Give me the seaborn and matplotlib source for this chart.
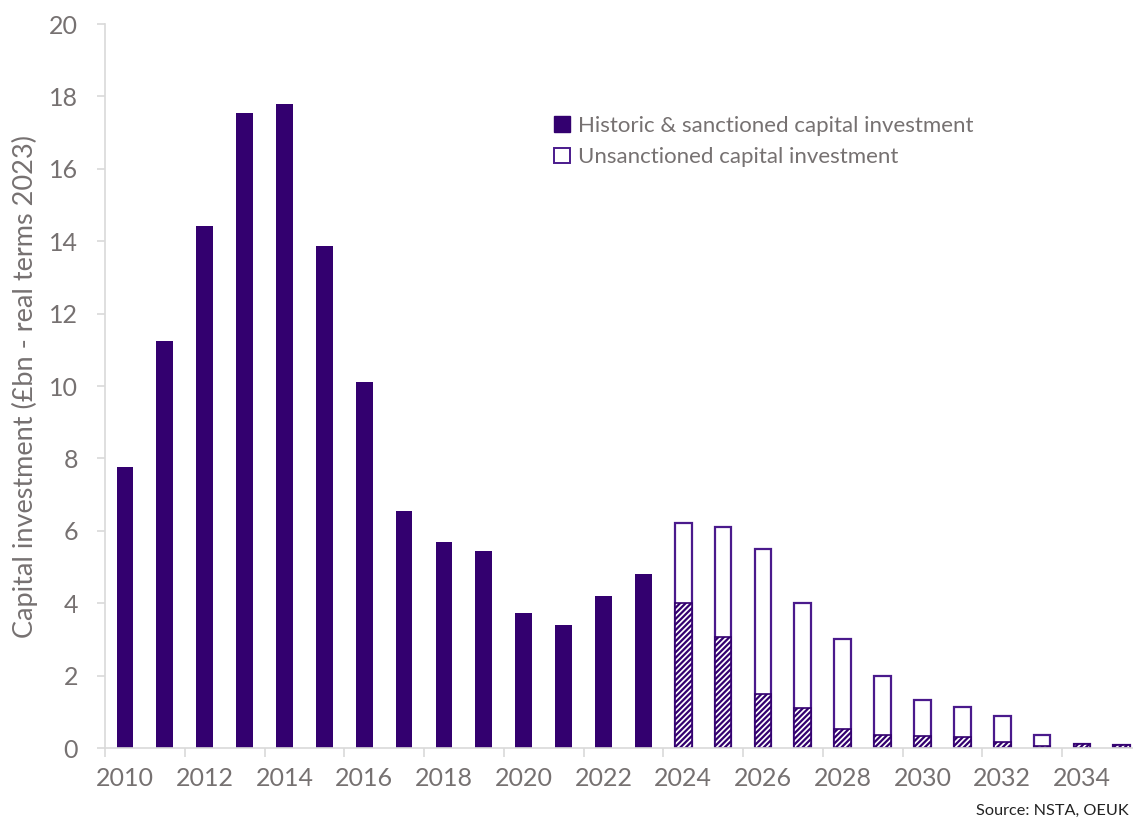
import matplotlib
matplotlib.use("Agg")
import matplotlib.pyplot as plt
from matplotlib.patches import Patch
from matplotlib.ticker import MultipleLocator, FixedLocator
import seaborn as sns
import pandas as pd

years = [str(y) for y in range(2010, 2036)]

historic_years = [str(y) for y in range(2010, 2024)]
historic = [7.75, 11.24, 14.42, 17.54, 17.79, 13.86, 10.11, 6.55, 5.70, 5.44, 3.73, 3.40, 4.20, 4.81]

future_years = [str(y) for y in range(2024, 2036)]
sanctioned = [4.00, 3.07, 1.49, 1.10, 0.52, 0.36, 0.34, 0.30, 0.17, 0.05, 0.10, 0.07]
unsanctioned = [2.22, 3.03, 4.01, 2.90, 2.49, 1.63, 0.99, 0.84, 0.72, 0.30, 0.00, 0.00]

legend_labels = ["Historic & sanctioned capital investment", "Unsanctioned capital investment"]
ylabel = "Capital investment (£bn - real terms 2023)"
source = "Source: NSTA, OEUK"

PURPLE = "#33006F"
EDGE = "#4A1A8C"
GREY_TXT = "#767171"
AXIS = "#D9D9D9"

sns.set_theme(style="white")
plt.rcParams["font.family"] = ["Lato", "DejaVu Sans"]
plt.rcParams["hatch.color"] = PURPLE
plt.rcParams["hatch.linewidth"] = 1.6

fig = plt.figure(figsize=(11.33, 8.23), dpi=100)
ax = fig.add_axes([105 / 1133, 75 / 823, (1133 - 105) / 1133, (748 - 24) / 823])

hist_df = pd.DataFrame({"year": historic_years, "value": historic})
fut_df = pd.DataFrame({
    "year": future_years,
    "sanctioned": sanctioned,
    "total": [s + u for s, u in zip(sanctioned, unsanctioned)],
})

bw = 0.42
sns.barplot(data=hist_df, x="year", y="value", order=years, color=PURPLE,
            saturation=1, width=bw, linewidth=0, ax=ax, errorbar=None)
sns.barplot(data=fut_df, x="year", y="total", order=years, color="white",
            saturation=1, width=bw, edgecolor=EDGE, linewidth=1.6, ax=ax, errorbar=None)
sns.barplot(data=fut_df, x="year", y="sanctioned", order=years, color="white",
            saturation=1, width=bw, edgecolor=PURPLE, linewidth=1.2, hatch="//////",
            ax=ax, errorbar=None)

ax.set_ylim(0, 20)
ax.set_xlim(-0.5, 25.28)
ax.yaxis.set_major_locator(MultipleLocator(2))

# labels on even years, tick marks on category boundaries
ax.set_xticks(range(0, len(years), 2))
ax.set_xticklabels(years[::2])
ax.xaxis.set_minor_locator(FixedLocator([i - 0.5 for i in range(0, len(years), 2)]))
ax.tick_params(axis="x", which="major", length=0, pad=14, labelsize=18, labelcolor=GREY_TXT)
ax.tick_params(axis="x", which="minor", length=6.5, width=1.2, color=AXIS, bottom=True)
ax.tick_params(axis="y", which="major", length=6, width=1.2, color=AXIS, left=True,
               labelsize=18, labelcolor=GREY_TXT, pad=13.5)

for side in ("top", "right"):
    ax.spines[side].set_visible(False)
for side in ("left", "bottom"):
    ax.spines[side].set_color(AXIS)
    ax.spines[side].set_linewidth(1.2)

ax.set_xlabel("")
ax.set_ylabel(ylabel, fontsize=19.5, color=GREY_TXT, labelpad=8)

handles = [Patch(facecolor=PURPLE, edgecolor=PURPLE),
           Patch(facecolor="white", edgecolor=EDGE, linewidth=1.4)]
fig.legend(handles, legend_labels, loc="upper left", bbox_to_anchor=(534 / 1133, 1 - 96 / 823),
           frameon=False, fontsize=16, labelcolor=GREY_TXT, handlelength=0.7, handleheight=0.7,
           handletextpad=0.4, labelspacing=0.5)

fig.text(1129 / 1133, 1 - 815 / 823, source, ha="right", va="baseline", fontsize=11.7, color="#222222")

fig.savefig("out.png", dpi=100)
